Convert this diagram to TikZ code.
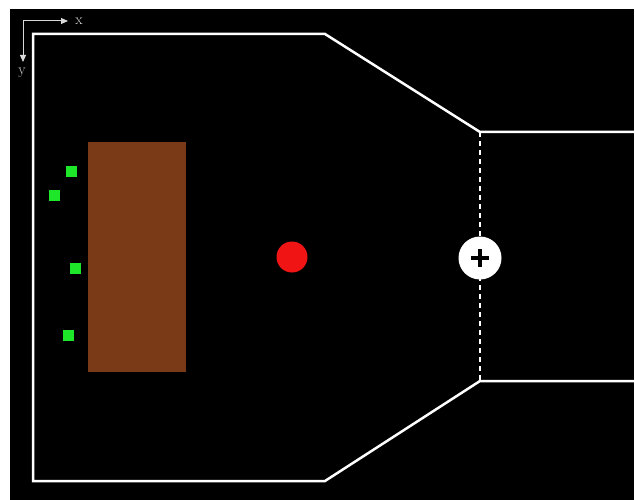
\documentclass[tikz,border=0pt]{standalone}
\usetikzlibrary{arrows.meta}
\definecolor{brownblk}{RGB}{122,58,24}
\definecolor{greenblk}{RGB}{30,230,40}
\definecolor{redblk}{RGB}{240,20,20}
\begin{document}
\begin{tikzpicture}[x=1pt,y=-1pt,
  wall/.style={draw=white,line width=2.5pt,line join=miter},
  axis/.style={draw=white!85!black,line width=1pt,-{Triangle[length=7pt,width=6pt]}},
  lbl/.style={text=white!85!black,font=\fontsize{15}{15}\selectfont,inner sep=0pt},
  sensor/.style={fill=greenblk,minimum size=11pt,inner sep=0pt,draw=none}]
\useasboundingbox (0,0) rectangle (635,500);
\fill[black] (10,9) rectangle (634,500);
% walls
\draw[wall] (634,132) -- (480,132) -- (325,34) -- (33,34) -- (33,481) -- (325,481) -- (480,381) -- (634,381);
\draw[white,line width=1.2pt,dash pattern=on 5pt off 4pt] (480,132) -- (480,381);
% axes
\coordinate (o) at (23,21);
\coordinate (xe) at (68,21);
\coordinate (ye) at (23,62);
\draw[axis] (o) -- (xe);
\draw[axis] (o) -- (ye);
\node[lbl] (xl) at (79,21) {x};
\node[lbl] (yl) at (22,73) {y};
% obstacle
\fill[brownblk] (88,142) rectangle (186,372);
% sensors
\node[sensor] (s1) at (71,172) {};
\node[sensor] (s2) at (54,196) {};
\node[sensor] (s3) at (75,268) {};
\node[sensor] (s4) at (68,335) {};
% red target
\node[circle,fill=redblk,minimum size=31pt,inner sep=0pt] (r) at (292,257) {};
% goal
\node[circle,fill=white,minimum size=43pt,inner sep=0pt] (g) at (480,258) {};
\draw[black,line width=4.5pt] (471,258) -- (489,258);
\draw[black,line width=4.5pt] (480,249) -- (480,267);
\end{tikzpicture}
\end{document}
